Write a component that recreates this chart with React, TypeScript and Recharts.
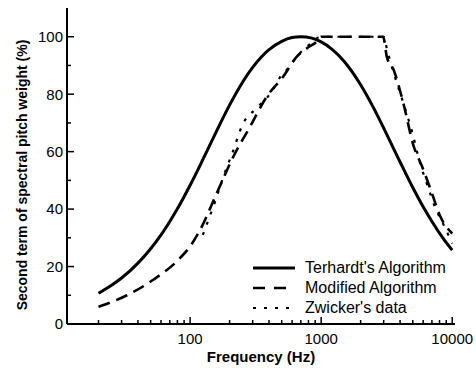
import React from 'react';
import { LineChart, Line, XAxis, YAxis, Legend } from 'recharts';

const terhardtFreq = [20, 25, 30, 40, 50, 60, 70, 80, 100, 120, 150, 200, 250, 300, 400, 500, 600, 700, 850, 1000, 1200, 1500, 2000, 2500, 3000, 4000, 5000, 6000, 7000, 8500, 10000];
const terhardtVal = [10.7, 13.4, 16.0, 21.2, 26.2, 31.0, 35.7, 40.1, 48.3, 55.5, 64.7, 76.2, 84.0, 89.3, 95.5, 98.4, 99.7, 100, 99.5, 98.2, 95.8, 91.4, 83.3, 75.4, 68.2, 56.4, 47.5, 40.8, 35.7, 29.9, 25.7];

const modifiedFreq = [20, 33, 52, 84, 100, 119, 160, 214, 287, 385, 515, 652, 780, 930, 1000, 2970, 3170, 3570, 4230, 5070, 5870, 7000, 8100, 10000];
const modifiedVal = [6, 10, 15.3, 23, 27, 32.7, 45.6, 58.3, 68.7, 79.2, 86.2, 93.1, 96, 98.4, 100, 100, 93, 88.5, 77, 62, 55, 45.5, 37.5, 31.5];

const zwickerFreq = [125, 140, 155, 185, 208, 255, 323, 421, 487, 560, 650, 800, 1000, 3000, 3200, 3600, 4300, 5000, 5600, 6500, 7500, 8500, 10000];
const zwickerVal = [31, 37, 42.6, 53, 59, 70, 75.2, 81, 86, 89, 93, 97, 100, 100, 95, 87, 76, 66, 57, 48, 40, 35, 28];

const xMajorTicks = [100, 1000, 10000];
const xMinorTicks = [20, 30, 40, 50, 60, 70, 80, 90, 200, 300, 400, 500, 600, 700, 800, 900, 2000, 3000, 4000, 5000, 6000, 7000, 8000, 9000];
const yMajorTicks = [0, 20, 40, 60, 80, 100];
const yMinorTicks = [10, 30, 50, 70, 90];

const seriesNames = ["Terhardt's Algorithm", 'Modified Algorithm', "Zwicker's data"];

const toPoints = (fs: number[], vs: number[]) => fs.map((f, i) => ({ f, v: vs[i] }));
const terhardtData = toPoints(terhardtFreq, terhardtVal);
const modifiedData = toPoints(modifiedFreq, modifiedVal);
const zwickerData = toPoints(zwickerFreq, zwickerVal);

const FONT = '"Liberation Sans", Arial, sans-serif';

const XTick = (props: any) => {
  const { x, y, payload } = props;
  const major = xMajorTicks.includes(payload.value);
  const axisY = y - 9;
  return (
    <g>
      <line x1={x} y1={axisY} x2={x} y2={axisY - (major ? 7 : 4)} stroke="#000" strokeWidth={1.5} />
      {major && (
        <text x={x} y={y} dy="0.71em" textAnchor="middle" fontSize={15} fontFamily={FONT} fill="#000">
          {payload.value}
        </text>
      )}
    </g>
  );
};

const YTick = (props: any) => {
  const { x, y, payload } = props;
  const major = yMajorTicks.includes(payload.value);
  const axisX = x + 4;
  return (
    <g>
      <line x1={axisX} y1={y} x2={axisX + (major ? 7 : 4)} y2={y} stroke="#000" strokeWidth={1.5} />
      {major && (
        <text x={x} y={y} dy="0.36em" textAnchor="end" fontSize={15} fontFamily={FONT} fill="#000">
          {payload.value}
        </text>
      )}
    </g>
  );
};

const YLabel = (props: any) => {
  const vb = props.viewBox || {};
  const cx = (vb.x || 0) + 22;
  const cy = (vb.y || 0) + (vb.height || 0) / 2 + 9;
  return (
    <text x={cx} y={cy} transform={`rotate(-90 ${cx} ${cy})`} textAnchor="middle" dominantBaseline="central" fontSize={14} fontWeight="bold" fontFamily={FONT} fill="#000">
      Second term of spectral pitch weight (%)
    </text>
  );
};

const dashes = [undefined, '12 9', '3 8'];
const widths = [3, 2.6, 2.2];

const LegendContent = () => (
  <div style={{ fontFamily: FONT, fontSize: 16, color: '#000' }}>
    {seriesNames.map((n, i) => (
      <div key={n} style={{ display: 'flex', alignItems: 'center', height: 20 }}>
        <svg width={48} height={10} style={{ marginRight: 4 }}>
          <line x1={0} y1={5} x2={42} y2={5} stroke="#000" strokeWidth={widths[i]} strokeDasharray={dashes[i]} />
        </svg>
        <span style={{ whiteSpace: 'nowrap' }}>{n}</span>
      </div>
    ))}
  </div>
);

export default function App() {
  return (
    <div style={{ position: 'absolute', left: 0, top: 0, background: '#fff' }}>
      <LineChart width={476} height={378} margin={{ top: 8, right: 21, bottom: 0, left: 0 }}>
        <XAxis
          dataKey="f"
          type="number"
          scale="log"
          domain={[11.5, 10500]}
          allowDataOverflow
          ticks={[...xMinorTicks, ...xMajorTicks].sort((a, b) => a - b)}
          interval={0}
          tick={<XTick />}
          tickLine={false}
          tickSize={0}
          tickMargin={9}
          height={54}
          axisLine={{ stroke: '#000', strokeWidth: 2 }}
          label={{ value: 'Frequency (Hz)', position: 'insideBottom', offset: 16, fontSize: 15, fontWeight: 'bold', fontFamily: FONT, fill: '#000' }}
        />
        <XAxis xAxisId="top" orientation="top" type="number" scale="log" domain={[11.5, 10500]} height={0} tick={false} tickLine={false} axisLine={{ stroke: '#000', strokeWidth: 2 }} />
        <YAxis
          type="number"
          domain={[0, 110]}
          ticks={[...yMajorTicks, ...yMinorTicks].sort((a, b) => a - b)}
          interval={0}
          tick={<YTick />}
          tickLine={false}
          tickSize={0}
          tickMargin={4}
          width={67}
          axisLine={{ stroke: '#000', strokeWidth: 2 }}
          label={<YLabel />}
        />
        <YAxis yAxisId="right" orientation="right" domain={[0, 110]} width={0} tick={false} tickLine={false} axisLine={{ stroke: '#000', strokeWidth: 2 }} />
        <Legend
          layout="vertical"
          align="center"
          verticalAlign="middle"
          content={<LegendContent />}
          wrapperStyle={{ position: 'absolute', left: 253, top: 258, width: 210 }}
        />
        <Line data={terhardtData} dataKey="v" name={seriesNames[0]} type="monotone" stroke="#000" strokeWidth={3} dot={false} isAnimationActive={false} />
        <Line data={modifiedData} dataKey="v" name={seriesNames[1]} type="monotone" stroke="#000" strokeWidth={2.6} strokeDasharray="12 7" dot={false} isAnimationActive={false} />
        <Line data={zwickerData} dataKey="v" name={seriesNames[2]} type="monotone" stroke="#000" strokeWidth={2.2} strokeDasharray="3 8" dot={false} isAnimationActive={false} />
      </LineChart>
    </div>
  );
}
